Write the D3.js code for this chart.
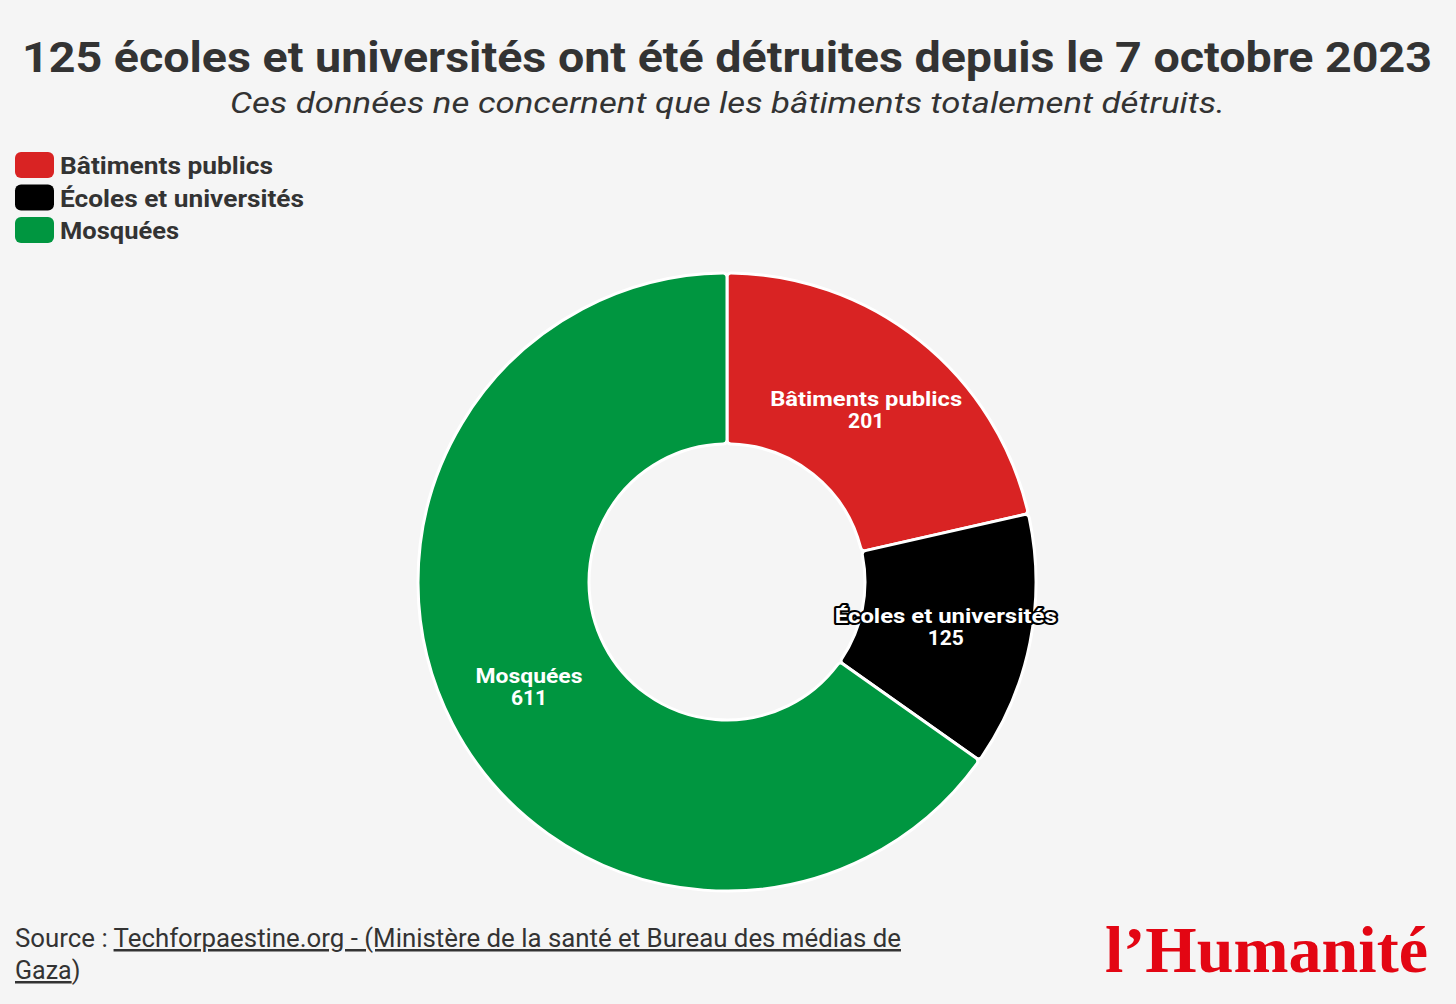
<!DOCTYPE html>
<html><head><meta charset="utf-8">
<script src="https://cdn.jsdelivr.net/npm/d3@7/dist/d3.min.js"></script>
<style>body{margin:0;background:#f5f5f5;}svg{display:block;font-family:Roboto,"Open Sans",sans-serif;}</style>
</head><body>
<script>
const categories = ["Bâtiments publics","Écoles et universités","Mosquées"];
const values = [201,125,611];
const colors = ["#d92323","#000000","#009640"];

const W=1456,H=1004;
const svg=d3.select("body").append("svg").attr("width",W).attr("height",H);
svg.append("rect").attr("width",W).attr("height",H).attr("fill","#f5f5f5");

svg.append("text").attr("x",22).attr("y",72)
 .attr("font-size",43).attr("font-weight",700).attr("fill","#333")
 .attr("textLength",1410).attr("lengthAdjust","spacingAndGlyphs")
 .text("125 écoles et universités ont été détruites depuis le 7 octobre 2023");
svg.append("text").attr("x",230).attr("y",113)
 .attr("font-size",30).attr("font-style","italic").attr("fill","#333")
 .attr("textLength",995).attr("lengthAdjust","spacingAndGlyphs")
 .text("Ces données ne concernent que les bâtiments totalement détruits.");

const lg=svg.append("g");
const lgW=[213,244,119];
categories.forEach((c,i)=>{
  const y=152+i*32.5;
  lg.append("rect").attr("x",15).attr("y",y).attr("width",39).attr("height",26).attr("rx",6).attr("fill",colors[i]);
  lg.append("text").attr("x",60).attr("y",y+22).attr("font-size",24).attr("font-weight",700).attr("fill","#333")
   .attr("textLength",lgW[i]).attr("lengthAdjust","spacingAndGlyphs").text(c);
});

const cx=727,cy=582,R=309,r0=138;
const pie=d3.pie().sort(null).value(d=>d)(values);
const arc=d3.arc().innerRadius(r0).outerRadius(R).cornerRadius(4);
const g=svg.append("g").attr("transform",`translate(${cx},${cy})`);
g.selectAll("path").data(pie).join("path").attr("d",arc)
 .attr("fill",(d,i)=>colors[i]).attr("stroke","#ffffff").attr("stroke-width",3);
const la=d3.arc().innerRadius(223).outerRadius(223);
const labW=[192,222,107];
pie.forEach((d,i)=>{
  const [x,y]=la.centroid(d);
  const t=g.append("text").attr("text-anchor","middle").attr("font-size",21).attr("font-weight",700)
   .attr("fill","#fff").attr("stroke","#000").attr("stroke-width",i===1?4:0).attr("paint-order","stroke").attr("stroke-linejoin","round");
  t.append("tspan").attr("x",x).attr("y",y-2).attr("textLength",labW[i]).attr("lengthAdjust","spacingAndGlyphs").text(categories[i]);
  t.append("tspan").attr("x",x).attr("y",y+20).text(values[i]);
});

const s=svg.append("text").attr("x",15).attr("y",947).attr("font-size",25).attr("fill","#333")
 .attr("textLength",886).attr("lengthAdjust","spacingAndGlyphs");
s.append("tspan").text("Source : ");
s.append("tspan").attr("text-decoration","underline").text("Techforpaestine.org - (Ministère de la santé et Bureau des médias de");
const s2=svg.append("text").attr("x",15).attr("y",979).attr("font-size",25).attr("fill","#333");
s2.append("tspan").attr("text-decoration","underline").text("Gaza");
s2.append("tspan").text(")");

svg.append("text").attr("x",1105).attr("y",972).attr("font-size",66)
 .attr("font-weight",700).attr("font-family","'Liberation Serif','DejaVu Serif',serif").attr("fill","#e30613")
 .attr("textLength",323).attr("lengthAdjust","spacingAndGlyphs").text("l’Humanité");
</script>
</body></html>
